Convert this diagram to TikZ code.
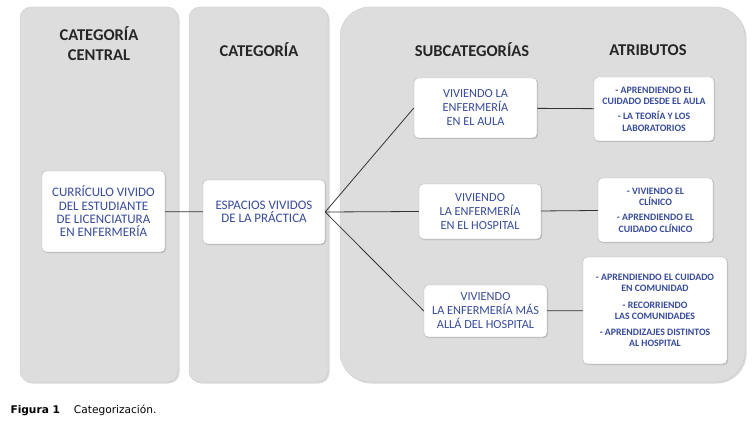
\documentclass[tikz,border=0pt]{standalone}
\usepackage{fontspec}
\setmainfont{Carlito}
\newfontfamily\capfont{DejaVu Sans}
\usetikzlibrary{shadows}
\definecolor{paneltone}{RGB}{221,221,221}
\definecolor{boxblue}{RGB}{55,75,155}

\begin{document}
\begin{tikzpicture}[
    x=1pt, y=-1pt,
    panel/.style={
        rectangle,
        rounded corners=11pt,
        fill=paneltone,
        draw=gray!40,
        inner sep=0pt,
        drop shadow={shadow xshift=1.5pt, shadow yshift=-1.5pt, opacity=0.3}
    },
    head/.style={
        font=\fontsize{16.5}{20}\selectfont\bfseries,
        align=center,
        text=black!85
    },
    block/.style={
        draw=gray!60,
        rectangle,
        rounded corners=4pt,
        fill=white,
        align=center,
        text=boxblue,
        font=\fontsize{13}{13.3}\selectfont,
        inner sep=2pt,
        drop shadow={shadow xshift=1pt, shadow yshift=-1pt, opacity=0.35}
    },
    sub/.style={block, font=\fontsize{12.3}{14}\selectfont},
    attr/.style={block, font=\fontsize{9.8}{11.5}\selectfont\bfseries},
    link/.style={draw=black!80, line width=0.8pt}
]
\useasboundingbox (0,0) rectangle (752,425);

\node[panel, minimum width=158pt, minimum height=375pt] (colA) at (99,194.5) {};
\node[panel, minimum width=139pt, minimum height=375pt] (colB) at (258.5,194.5) {};
\node[panel, rounded corners=30pt, minimum width=405pt, minimum height=375pt] (colC) at (542.5,194.5) {};

\node[head] (hcentral) at (99,44) {CATEGORÍA\\CENTRAL};
\node[head] (hcat) at (259,50) {CATEGORÍA};
\node[head] (hsub) at (472,50) {SUBCATEGORÍAS};
\node[head] (hattr) at (648,50) {ATRIBUTOS};

\node[block, minimum width=123pt, minimum height=81pt] (central) at (103.5,211.5)
    {CURRÍCULO VIVIDO\\DEL ESTUDIANTE\\DE LICENCIATURA\\EN ENFERMERÍA};
\node[block, minimum width=122pt, minimum height=64pt] (cat) at (264,212)
    {ESPACIOS VIVIDOS\\DE LA PRÁCTICA};

\node[sub, minimum width=123pt, minimum height=60pt] (aula) at (475.5,108)
    {VIVIENDO LA\\ENFERMERÍA\\EN EL AULA};
\node[sub, minimum width=122pt, minimum height=55pt] (hosp) at (480,211.5)
    {VIVIENDO\\LA ENFERMERÍA\\EN EL HOSPITAL};
\node[sub, minimum width=123pt, minimum height=52pt] (mas) at (485.5,311)
    {VIVIENDO\\LA ENFERMERÍA MÁS\\ALLÁ DEL HOSPITAL};

\node[attr, minimum width=120pt, minimum height=64pt] (attaula) at (654,109)
    {- APRENDIENDO EL\\CUIDADO DESDE EL AULA\\[3.5pt]- LA TEORÍA Y LOS\\LABORATORIOS};
\node[attr, minimum width=115pt, minimum height=64pt] (atthosp) at (655.5,210)
    {- VIVIENDO EL\\CLÍNICO\\[3.5pt]- APRENDIENDO EL\\CUIDADO CLÍNICO};
\node[attr, minimum width=144pt, minimum height=107pt, font=\fontsize{9.8}{11}\selectfont\bfseries] (attmas) at (655,310.5)
    {- APRENDIENDO EL CUIDADO\\EN COMUNIDAD\\[5.5pt]- RECORRIENDO\\LAS COMUNIDADES\\[5.5pt]- APRENDIZAJES DISTINTOS\\AL HOSPITAL};

\draw[link] (central) -- (cat);
\draw[link] (cat.east) -- (aula.west);
\draw[link] (cat.east) -- (hosp.west);
\draw[link] (cat.east) -- (mas.west);
\draw[link] (aula) -- (attaula);
\draw[link] (hosp) -- (atthosp);
\draw[link] (mas) -- (attmas);

\node[anchor=west, font=\capfont\fontsize{10.6}{12}\selectfont] (caption) at (7,410)
    {\textbf{Figura 1}\hspace{14pt}Categorización.};

\end{tikzpicture}
\end{document}
